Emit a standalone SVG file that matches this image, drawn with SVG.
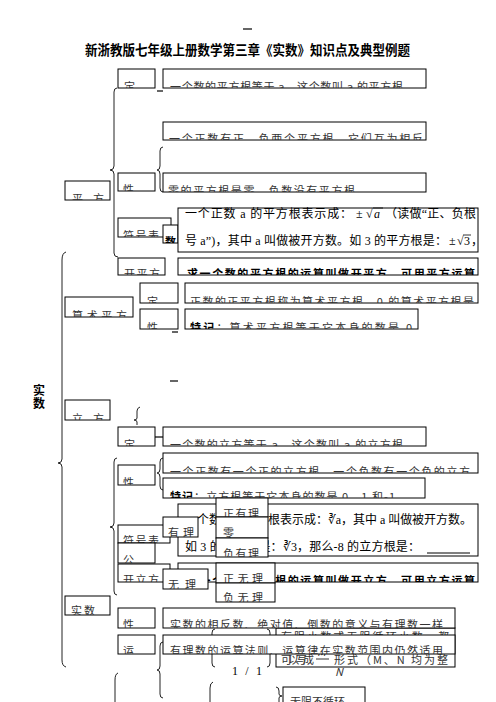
<svg xmlns="http://www.w3.org/2000/svg" width="496" height="702" viewBox="0 0 496 702">
<style>
.b{fill:#fff;stroke:#000;stroke-width:1}
.t{font-family:"Noto Sans CJK SC","Liberation Serif",serif;font-size:11px;fill:#333}
.m{font-family:"Liberation Serif","Noto Sans CJK SC",serif;font-size:12px;fill:#000}
.k{font-weight:bold;fill:#000}
.br{fill:none;stroke:#222;stroke-width:1}
.ln{stroke:#000;stroke-width:1.2}
</style>
<rect width="496" height="702" fill="#fff"/>
<line class="ln" x1="243" y1="29" x2="252" y2="29"/>
<text x="85" y="55" font-family="Noto Sans CJK SC,sans-serif" font-size="13.5" font-weight="bold" textLength="325" lengthAdjust="spacingAndGlyphs">新浙教版七年级上册数学第三章《实数》知识点及典型例题</text>
<text class="k" x="33" y="395" font-family="Noto Sans CJK SC,sans-serif" font-size="12">实</text>
<text class="k" x="33" y="408" font-family="Noto Sans CJK SC,sans-serif" font-size="12">数</text>

<g id="connectors">
<path class="br" d="M117 88 Q114 88 114 92 L114 166 Q114 170 110 170 Q114 170 114 174 L114 253 Q114 257 118 257"/>
<path class="br" d="M163 147 Q160 147 160 151 L160 166 Q160 170 157 170 Q160 170 160 174 L160 188 Q160 192 163 192"/>
<path class="br" d="M66 252 Q62 253 62 260 L62 459 Q62 463 58 463 Q62 463 62 467 L62 660 Q62 666 66 667"/>
<path class="br" d="M140 407 Q137 408 137 411 L137 418 Q137 420 134 420 Q137 420 137 422 L137 425"/>
<path class="br" d="M117 458 Q114 458 114 462 L114 523 Q114 527 110 527 Q114 527 114 531 L114 591 Q114 595 117 595"/>
<path class="br" d="M163 458 Q160 458 160 462 L160 469 Q160 473 157 473 Q160 473 160 477 L160 486 Q160 490 163 490"/>
<path class="br" d="M215 629 Q212 629 212 633 L212 644 Q212 648 209 648 Q212 648 212 652 L212 663 Q212 667 215 667"/>
<path class="br" d="M267 629 Q270 629 270 633 L270 644 Q270 648 273 648 Q270 648 270 652 L270 663 Q270 667 267 667"/>
<path class="br" d="M163 642 Q160 642 160 646 L160 666 Q160 670 157 670 Q160 670 160 674 L160 694 Q160 698 163 698"/>
<path class="br" d="M118 673 Q115 674 115 680 L115 702"/>
<path class="br" d="M213 682 Q210 683 210 688 L210 702"/>
<path class="br" d="M276 687 Q279 687 279 691 L279 694 Q279 696 282 696 Q279 696 279 698 L279 702"/>
<line class="ln" x1="157" y1="91" x2="163" y2="91"/>
<line class="ln" x1="172" y1="332" x2="178" y2="332"/>
<line class="ln" x1="170" y1="381" x2="178" y2="381"/>
<line class="ln" x1="155" y1="437" x2="163" y2="437"/>
<line class="br" x1="209" y1="577" x2="213" y2="572"/>
</g>

<g id="pf-def"><rect class="b" x="118" y="69" width="37" height="19"/><svg x="118" y="69" width="37" height="19"><text class="t" x="6" y="22">定</text></svg></g>
<g id="pf-def-text"><rect class="b" x="163" y="69" width="263" height="19"/><svg x="163" y="69" width="263" height="19"><text class="t" x="7" y="22" textLength="233" lengthAdjust="spacing">一个数的平方根等于 a，这个数叫 a 的平方根</text></svg></g>
<g id="pf-p1"><rect class="b" x="163" y="122" width="263" height="18"/><svg x="163" y="122" width="263" height="18"><text class="t" x="6" y="21" textLength="254" lengthAdjust="spacing">一个正数有正、负两个平方根，它们互为相反</text></svg></g>
<g id="pf-xing"><rect class="b" x="118" y="173" width="37" height="18"/><svg x="118" y="173" width="37" height="18"><text class="t" x="5" y="21">性</text></svg></g>
<g id="pf-p2"><rect class="b" x="163" y="173" width="263" height="19"/><svg x="163" y="173" width="263" height="19"><text class="t" x="5" y="22" textLength="187" lengthAdjust="spacing">零的平方根是零，负数没有平方根</text></svg></g>
<g id="pingfang"><rect class="b" x="65" y="181" width="45" height="19"/><svg x="65" y="181" width="45" height="19"><text class="t" x="7" y="22" textLength="32" lengthAdjust="spacing">平 方</text></svg></g>
<g id="pf-fuhao"><rect class="b" x="118" y="218" width="53" height="19"/><svg x="118" y="218" width="53" height="19"><text class="t" x="5" y="22" textLength="36" lengthAdjust="spacing">符号表</text></svg></g>
<g id="pf-small"><rect class="b" x="163" y="225" width="15" height="18"/><svg x="163" y="225" width="15" height="18"><text class="t k" x="2" y="21">数</text></svg></g>
<g id="pf-symbol">
<rect class="b" x="178" y="208" width="300" height="44"/>
<text class="m" x="185" y="218" textLength="167" lengthAdjust="spacing">一个正数 a 的平方根表示成：</text>
<text class="m" x="356" y="218">±</text>
<text class="m" x="366" y="218">√</text>
<text class="m" x="374" y="218" font-style="italic">a</text>
<line x1="373" y1="208" x2="383" y2="208" stroke="#000" stroke-width="0.8"/>
<text class="m" x="385" y="218" textLength="91" lengthAdjust="spacing">（读做“正、负根</text>
<text class="m" x="185" y="245" textLength="262" lengthAdjust="spacing">号 a”)，其中 a 叫做被开方数。如 3 的平方根是：</text>
<text class="m" x="449" y="245">±</text>
<text class="m" x="457" y="245">√</text>
<text class="m" x="464" y="245">3</text>
<line x1="463" y1="235" x2="471" y2="235" stroke="#000" stroke-width="0.8"/>
<text class="m" x="471" y="245">，</text>
</g>
<g id="kaipingfang"><rect class="b" x="118" y="258" width="47" height="17"/><svg x="118" y="258" width="47" height="17"><text class="t" x="6" y="20" textLength="36" lengthAdjust="spacing">开平方</text></svg></g>
<g id="kaipingfang-text"><rect class="b" x="178" y="258" width="300" height="17"/><svg x="178" y="258" width="300" height="17"><text class="t k" x="9" y="20" font-size="12" textLength="288" lengthAdjust="spacing">求一个数的平方根的运算叫做开平方，可用平方运算</text></svg></g>

<g id="suanshu"><rect class="b" x="65" y="297" width="68" height="20"/><svg x="65" y="297" width="68" height="20"><text class="t" x="7" y="23" textLength="55" lengthAdjust="spacing">算术平方</text></svg></g>
<g id="ss-def"><rect class="b" x="140" y="283" width="38" height="20"/><svg x="140" y="283" width="38" height="20"><text class="t" x="7" y="23">定</text></svg></g>
<g id="ss-def-text"><rect class="b" x="185" y="283" width="293" height="20"/><svg x="185" y="283" width="293" height="20"><text class="t" x="5" y="23" textLength="284" lengthAdjust="spacing">正数的正平方根称为算术平方根，0 的算术平方根是</text></svg></g>
<g id="ss-xing"><rect class="b" x="140" y="309" width="38" height="20"/><svg x="140" y="309" width="38" height="20"><text class="t" x="7" y="23">性</text></svg></g>
<g id="ss-xing-text"><rect class="b" x="185" y="309" width="233" height="20"/><svg x="185" y="309" width="233" height="20"><text class="t" x="5" y="23" textLength="222" lengthAdjust="spacing"><tspan class="k">特记</tspan>：算术平方根等于它本身的数是 0</text></svg></g>

<g id="lifang"><rect class="b" x="65" y="400" width="45" height="20"/><svg x="65" y="400" width="45" height="20"><text class="t" x="7" y="23" textLength="32" lengthAdjust="spacing">立 方</text></svg></g>
<g id="lf-def"><rect class="b" x="118" y="427" width="37" height="19"/><svg x="118" y="427" width="37" height="19"><text class="t" x="6" y="22">定</text></svg></g>
<g id="lf-def-text"><rect class="b" x="163" y="427" width="263" height="19"/><svg x="163" y="427" width="263" height="19"><text class="t" x="7" y="22" textLength="233" lengthAdjust="spacing">一个数的立方等于 a，这个数叫 a 的立方根</text></svg></g>
<g id="lf-xing"><rect class="b" x="118" y="465" width="37" height="20"/><svg x="118" y="465" width="37" height="20"><text class="t" x="5" y="22">性</text></svg></g>
<g id="lf-p1"><rect class="b" x="163" y="453" width="315" height="20"/><svg x="163" y="453" width="315" height="20"><text class="t" x="7" y="23" textLength="300" lengthAdjust="spacing">一个正数有一个正的立方根，一个负数有一个负的立方</text></svg></g>
<g id="lf-p2"><rect class="b" x="163" y="478" width="262" height="20"/><svg x="163" y="478" width="262" height="20"><text class="t" x="7" y="23" textLength="225" lengthAdjust="spacing"><tspan class="k">特记</tspan>：立方根等于它本身的数是 0，1 和-1</text></svg></g>
<g id="lf-symbol">
<rect class="b" x="178" y="504" width="300" height="52"/>
<text class="m" x="185" y="524" textLength="287" lengthAdjust="spacing">一个数 a 的立方根表示成：∛a，其中 a 叫做被开方数。</text>
<text class="m" x="185" y="551" textLength="235" lengthAdjust="spacing">如 3 的立方根是：∛3，那么-8 的立方根是：</text>
<line x1="427" y1="553" x2="470" y2="553" stroke="#000" stroke-width="1"/>
</g>
<g id="zhengyouli"><rect class="b" x="216" y="498" width="52" height="19"/><svg x="216" y="498" width="52" height="19"><text class="t" x="7" y="20" textLength="36" lengthAdjust="spacing">正有理</text></svg></g>
<g id="ling"><rect class="b" x="216" y="517" width="52" height="21"/><svg x="216" y="517" width="52" height="21"><text class="t" x="7" y="20">零</text></svg></g>
<g id="fuyouli"><rect class="b" x="216" y="538" width="52" height="19"/><svg x="216" y="538" width="52" height="19"><text class="t" x="7" y="20" textLength="36" lengthAdjust="spacing">负有理</text></svg></g>
<g id="lf-fuhao"><rect class="b" x="118" y="525" width="52" height="18"/><svg x="118" y="525" width="52" height="18"><text class="t" x="5" y="20" textLength="36" lengthAdjust="spacing">符号表</text></svg></g>
<g id="youli"><rect class="b" x="163" y="517" width="35" height="20"/><svg x="163" y="517" width="35" height="20"><text class="t" x="5" y="20" textLength="26" lengthAdjust="spacing">有 理</text></svg></g>
<g id="lf-gong"><rect class="b" x="118" y="543" width="37" height="20"/><svg x="118" y="543" width="37" height="20"><text class="t" x="5" y="21">公</text></svg></g>
<g id="kailifang-text"><rect class="b" x="178" y="563" width="300" height="19"/><svg x="178" y="563" width="300" height="19"><text class="t k" x="9" y="22" font-size="12" textLength="288" lengthAdjust="spacing">求一个数的立方根的运算叫做开立方，可用立方运算</text></svg></g>
<g id="kailifang"><rect class="b" x="118" y="564" width="52" height="18"/><svg x="118" y="564" width="52" height="18"><text class="t" x="5" y="20" textLength="36" lengthAdjust="spacing">开立方</text></svg></g>
<g id="wuli"><rect class="b" x="163" y="569" width="45" height="20"/><svg x="163" y="569" width="45" height="20"><text class="t" x="5" y="20" textLength="28" lengthAdjust="spacing">无 理</text></svg></g>
<g id="zhengwuli"><rect class="b" x="216" y="563" width="59" height="20"/><svg x="216" y="563" width="59" height="20"><text class="t" x="7" y="20" textLength="40" lengthAdjust="spacing">正 无 理</text></svg></g>
<g id="fuwuli"><rect class="b" x="216" y="583" width="59" height="19"/><svg x="216" y="583" width="59" height="19"><text class="t" x="7" y="19" textLength="40" lengthAdjust="spacing">负 无 理</text></svg></g>

<g id="shishu"><rect class="b" x="65" y="596" width="45" height="19"/><svg x="65" y="596" width="45" height="19"><text class="t" x="6" y="19" textLength="24" lengthAdjust="spacing">实数</text></svg></g>
<g id="youxian">
<rect class="b" x="276" y="628" width="179" height="39"/>
<svg x="276" y="628" width="179" height="39"><text class="t" x="5" y="13" textLength="168" lengthAdjust="spacing">有限小数或无限循环小数，都</text></svg>
<text class="t" x="281" y="664" textLength="33" lengthAdjust="spacing">可以写成</text>
<text class="t" x="317" y="656" font-size="9" font-style="italic" font-family="Liberation Serif,serif">M</text>
<line x1="316" y1="659" x2="329" y2="659" stroke="#000" stroke-width="0.8"/>
<text class="t" x="334" y="664" textLength="114" lengthAdjust="spacing">形式（M、N 均为整</text>
<text class="t" x="335" y="676" font-size="9" font-style="italic" font-family="Liberation Serif,serif">N</text>
</g>
<g id="ss-xing2"><rect class="b" x="118" y="608" width="37" height="20"/><svg x="118" y="608" width="37" height="20"><text class="t" x="5" y="21">性</text></svg></g>
<g id="ss-xing2-text"><rect class="b" x="163" y="608" width="292" height="20"/><svg x="163" y="608" width="292" height="20"><text class="t" x="7" y="21" textLength="273" lengthAdjust="spacing">实数的相反数、绝对值、倒数的意义与有理数一样</text></svg></g>
<g id="yun"><rect class="b" x="118" y="635" width="37" height="19"/><svg x="118" y="635" width="37" height="19"><text class="t" x="5" y="20">运</text></svg></g>
<g id="yun-text"><rect class="b" x="163" y="635" width="292" height="19"/><svg x="163" y="635" width="292" height="19"><text class="t" x="7" y="20" textLength="273" lengthAdjust="spacing">有理数的运算法则、运算律在实数范围内仍然适用</text></svg></g>
<g id="wuxian"><rect class="b" x="283" y="687" width="82" height="25"/><svg x="283" y="687" width="82" height="25"><text class="t" x="7" y="19" textLength="55" lengthAdjust="spacing">无限不循环</text></svg></g>
<text class="m" x="232" y="675" font-size="11" textLength="30" lengthAdjust="spacing">1 / 1</text>
</svg>
